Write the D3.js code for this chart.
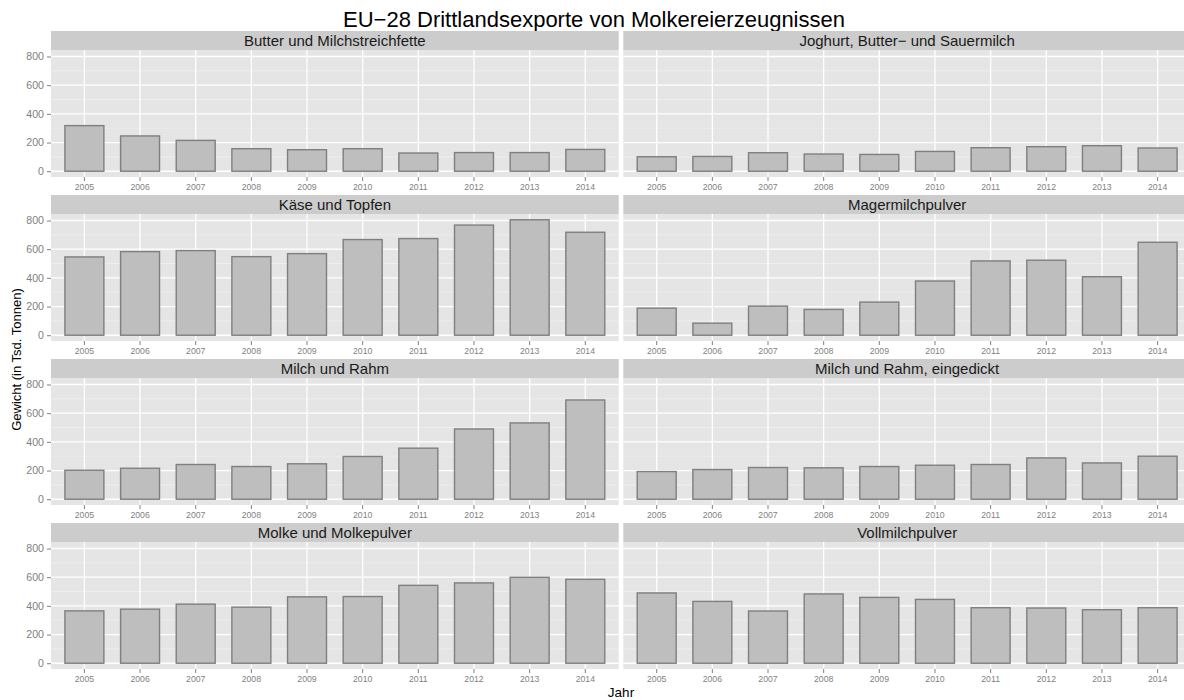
<!DOCTYPE html>
<html>
<head>
<meta charset="utf-8">
<script src="https://cdn.jsdelivr.net/npm/d3@7"></script>
<style>
  html, body { margin: 0; padding: 0; background: #fff; overflow: hidden; }
  svg { display: block; font-family: "Liberation Sans", Arial, Helvetica, sans-serif; }
</style>
</head>
<body>
<svg id="chart" width="1184" height="700"></svg>
<script>
const years = [2005, 2006, 2007, 2008, 2009, 2010, 2011, 2012, 2013, 2014];
const categories = [
  "Butter und Milchstreichfette",
  "Joghurt, Butter\u2212 und Sauermilch",
  "Käse und Topfen",
  "Magermilchpulver",
  "Milch und Rahm",
  "Milch und Rahm, eingedickt",
  "Molke und Molkepulver",
  "Vollmilchpulver"
];
const butter     = [318, 246, 215, 157, 150, 157, 127, 130, 130, 152];
const joghurt    = [101, 103, 129, 120, 117, 138, 164, 171, 178, 162];
const kaese      = [546, 583, 590, 548, 569, 667, 674, 768, 805, 718];
const magermilch = [189,  84, 203, 180, 231, 378, 518, 523, 408, 648];
const milchRahm  = [202, 216, 242, 228, 247, 298, 356, 490, 532, 692];
const eingedickt = [193, 207, 221, 219, 228, 237, 242, 288, 253, 300];
const molke      = [365, 377, 412, 391, 463, 465, 543, 560, 599, 585];
const vollmilch  = [490, 431, 364, 483, 459, 445, 387, 385, 373, 387];
const seriesValues = [butter, joghurt, kaese, magermilch, milchRahm, eingedickt, molke, vollmilch];
const yTicks = [0, 200, 400, 600, 800];
const yMinor = [100, 300, 500, 700];
const title = "EU\u221228 Drittlandsexporte von Molkereierzeugnissen";
const xTitle = "Jahr";
const yTitle = "Gewicht (in Tsd. Tonnen)";

const svg = d3.select("#chart");

// layout
const colX = [51, 623.3];
const panelW = 567.7;
const rowTop = [31, 195, 359, 523];
const stripH = 19;
const panelH = 127;

const maxV = d3.max(seriesValues.flat());
const pad = 0.05 * maxV;

// title
svg.append("text")
  .attr("x", 594).attr("y", 27)
  .attr("text-anchor", "middle")
  .attr("font-size", 22)
  .attr("fill", "#000")
  .text(title);

categories.forEach((cat, i) => {
  const col = i % 2, row = Math.floor(i / 2);
  const x0 = colX[col];
  const sTop = rowTop[row];
  const pTop = sTop + stripH;
  const pBot = pTop + panelH;
  const vals = seriesValues[i];

  const x = d3.scaleBand().domain(years).range([x0, x0 + panelW])
    .paddingInner(0.3).paddingOuter(0.25);
  const y = d3.scaleLinear().domain([-pad, maxV + pad]).range([pBot, pTop]);

  const g = svg.append("g");

  // strip
  g.append("rect").attr("x", x0).attr("y", sTop).attr("width", panelW).attr("height", stripH)
    .attr("fill", "#cccccc");
  g.append("text").attr("x", x0 + panelW / 2).attr("y", sTop + 14.5)
    .attr("text-anchor", "middle").attr("font-size", 15).attr("fill", "#1a1a1a")
    .text(cat);

  // panel background
  g.append("rect").attr("x", x0).attr("y", pTop).attr("width", panelW).attr("height", panelH)
    .attr("fill", "#e5e5e5");

  // minor grid
  g.selectAll(".minor").data(yMinor).join("line")
    .attr("x1", x0).attr("x2", x0 + panelW)
    .attr("y1", d => y(d)).attr("y2", d => y(d))
    .attr("stroke", "#f2f2f2").attr("stroke-width", 0.7);
  // major grid
  g.selectAll(".major").data(yTicks).join("line")
    .attr("x1", x0).attr("x2", x0 + panelW)
    .attr("y1", d => y(d)).attr("y2", d => y(d))
    .attr("stroke", "#ffffff").attr("stroke-width", 1.3);
  g.selectAll(".vmajor").data(years).join("line")
    .attr("x1", d => x(d) + x.bandwidth() / 2).attr("x2", d => x(d) + x.bandwidth() / 2)
    .attr("y1", pTop).attr("y2", pBot)
    .attr("stroke", "#ffffff").attr("stroke-width", 1.3);

  // bars
  g.selectAll(".bar").data(years).join("rect")
    .attr("x", d => x(d))
    .attr("width", x.bandwidth())
    .attr("y", (d, j) => y(vals[j]))
    .attr("height", (d, j) => y(0) - y(vals[j]))
    .attr("fill", "#bebebe")
    .attr("stroke", "#7f7f7f")
    .attr("stroke-width", 1.4);

  // x axis
  const xa = g.append("g").attr("transform", `translate(0,${pBot})`)
    .call(d3.axisBottom(x).tickSize(4).tickPadding(3));
  xa.select(".domain").remove();
  xa.selectAll(".tick line").attr("stroke", "#7f7f7f");
  xa.selectAll(".tick text").attr("fill", "#7f7f7f").attr("font-size", 8.7)
    .attr("font-family", "Liberation Sans, Arial, sans-serif");

  // y axis (left column only)
  if (col === 0) {
    const ya = g.append("g").attr("transform", `translate(${x0},0)`)
      .call(d3.axisLeft(y).tickValues(yTicks).tickSize(4).tickPadding(3));
    ya.select(".domain").remove();
    ya.selectAll(".tick line").attr("stroke", "#7f7f7f");
    ya.selectAll(".tick text").attr("fill", "#7f7f7f").attr("font-size", 10.6)
      .attr("font-family", "Liberation Sans, Arial, sans-serif");
  }
});

// axis titles
svg.append("text")
  .attr("x", 621).attr("y", 696.5)
  .attr("text-anchor", "middle").attr("font-size", 13.5).attr("fill", "#000")
  .text(xTitle);
svg.append("text")
  .attr("transform", "translate(21,359.5) rotate(-90)")
  .attr("text-anchor", "middle").attr("font-size", 13).attr("fill", "#000")
  .text(yTitle);
</script>
</body>
</html>
